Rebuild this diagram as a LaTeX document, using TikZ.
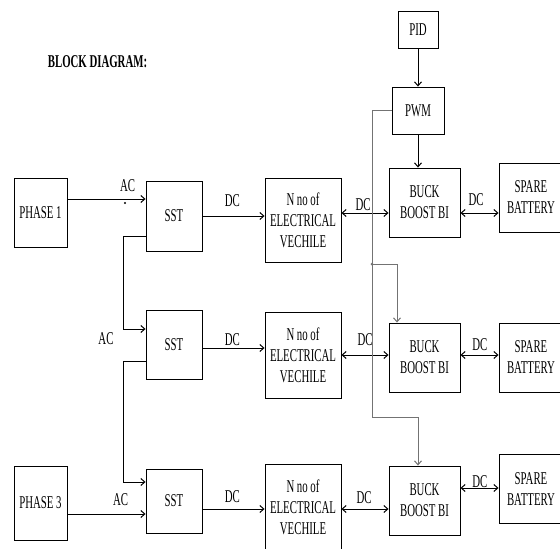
\documentclass[tikz,border=0pt]{standalone}
\usepackage{fontspec}
\setmainfont{Liberation Serif}[FakeStretch=0.6]
\usetikzlibrary{arrows.meta, positioning}

\begin{document}
\begin{tikzpicture}[
    x=1pt, y=-1pt,
    font=\fontsize{18}{21}\selectfont,
    box/.style={draw, line width=0.9pt, align=center, inner sep=0pt, minimum width=56pt, minimum height=69pt},
    evbox/.style={box, minimum width=76pt, minimum height=86pt},
    lbl/.style={inner sep=0pt},
    arrow/.style={-{Straight Barb[length=4pt, width=7pt]}, line width=1pt},
    dbl/.style={{Straight Barb[length=4pt, width=7pt]}-{Straight Barb[length=4pt, width=7pt]}, line width=1pt},
    ctrl/.style={arrow, draw=black!55}
]
\useasboundingbox (0,0) rectangle (560,549);

\node[font=\fontsize{18}{21}\selectfont\bfseries] (title) at (97.5,62) {BLOCK DIAGRAM:};

% first row
\node[box, minimum width=53pt] (phaseA) at (40.5,212.5) {PHASE 1};
\node[box, minimum height=70pt] (sstA) at (174,216) {SST};
\node[evbox, minimum height=84pt] (evA) at (303,220) {N no of\\ELECTRICAL\\VECHILE};
\node[box, minimum width=71pt] (buckA) at (424.5,202.5) {BUCK\\BOOST BI};
\node[box, minimum width=64pt] (batA) at (531,197.5) {SPARE\\BATTERY};
\node[box, minimum width=52pt, minimum height=47pt] (pwm) at (418,110.5) {PWM};
\node[box, minimum width=40pt, minimum height=37pt, above=38pt of pwm] (pid) {PID};

% second row
\node[box] (sstB) at (174,344.5) {SST};
\node[evbox] (evB) at (303,355) {N no of\\ELECTRICAL\\VECHILE};
\node[box, minimum width=71pt] (buckB) at (424.5,357.5) {BUCK\\BOOST BI};
\node[box, minimum width=64pt] (batB) at (531,357.5) {SPARE\\BATTERY};

% third row
\node[box, minimum width=53pt, minimum height=74pt] (phaseC) at (40.5,503) {PHASE 3};
\node[box, minimum height=64pt] (sstC) at (174,501) {SST};
\node[evbox] (evC) at (303,507) {N no of\\ELECTRICAL\\VECHILE};
\node[box, minimum width=71pt] (buckC) at (424.5,500.5) {BUCK\\BOOST BI};
\node[box, minimum width=64pt] (batC) at (531,489) {SPARE\\BATTERY};

% AC supply
\coordinate (acA) at ([yshift=13.5pt]phaseA.east);
\draw[arrow] (acA) -- node[lbl, pos=0.77, above=7pt] {AC} (acA -| sstA.west);
\fill (125,203) circle (1.2pt);
\draw[arrow] ([yshift=-20pt]sstA.west) -- ++(-22,0) |- ([yshift=15.5pt]sstB.west);
\node[lbl] (acB) at (106,339) {AC};
\draw[arrow] ([yshift=-16.5pt]sstB.west) -- ++(-22,0) |- ([yshift=19pt]sstC.west);
\coordinate (acC) at ([yshift=-11pt]phaseC.east);
\draw[arrow] (acC) -- node[lbl, pos=0.68, above=8pt] {AC} (acC -| sstC.west);

% DC to vehicles
\draw[arrow] (sstA.east) -- node[lbl, pos=0.48, above=9pt] {DC} (sstA.east -| evA.west);
\draw[arrow] ([yshift=-3.5pt]sstB.east) -- node[lbl, pos=0.48, above=2pt] {DC} ([yshift=-3.5pt]sstB.east -| evB.west);
\coordinate (dcC) at ([yshift=-8pt]sstC.east);
\draw[arrow] (dcC) -- node[lbl, pos=0.48, above=6pt] {DC} (dcC -| evC.west);

% vehicles, converters and batteries
\coordinate (dcA) at ([yshift=7pt]evA.east);
\draw[dbl] (dcA) -- node[lbl, pos=0.46, above=2pt] {DC} (dcA -| buckA.west);
\draw[dbl] (buckA.east |- dcA) -- node[lbl, pos=0.41, above=7pt] {DC} (batA.west |- dcA);
\draw[dbl] (evB.east) -- node[lbl, pos=0.5, above=9pt] {DC} (evB.east -| buckB.west);
\draw[dbl] (buckB.east |- evB.east) -- node[lbl, pos=0.51, above=4pt] {DC} (batB.west |- evB.east);
\coordinate (dcE) at ([yshift=-2pt]evC.east);
\draw[dbl] (dcE) -- node[lbl, pos=0.48, above=5pt] {DC} (dcE -| buckC.west);
\draw[dbl] ([yshift=1pt]buckC.east |- batC.west) -- node[lbl, pos=0.51, above=0pt] {DC} ([yshift=1pt]batC.west);

% control
\draw[arrow] (pid) -- (pwm);
\draw[arrow] (pwm.south) -- (pwm.south |- buckA.north);
\coordinate (tapB) at (372,264);
\coordinate (tapC) at (372,417);
\draw[ctrl] (pwm.west) -| (tapC) -| ([xshift=-6.5pt]buckC.north);
\draw[ctrl] (tapB) -| ([xshift=-27.5pt]buckB.north);
\fill[black!55] (tapB) circle (1.5pt);

\end{tikzpicture}
\end{document}
